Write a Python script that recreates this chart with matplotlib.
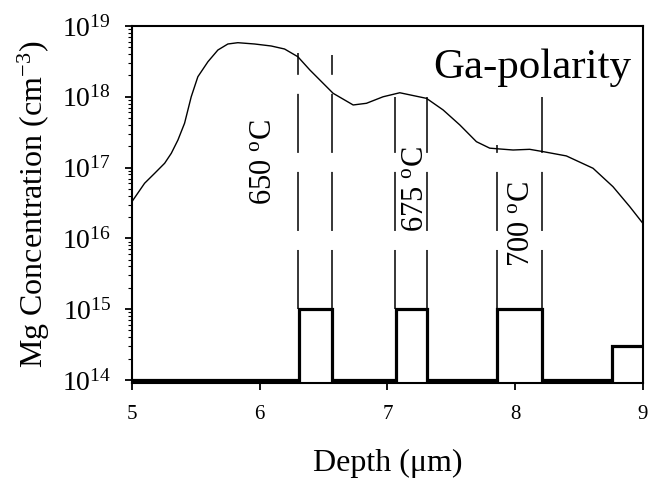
import numpy as np
import matplotlib
matplotlib.use("Agg")
import matplotlib.pyplot as plt

plt.rcParams['font.family'] = ['Liberation Serif', 'DejaVu Serif']
plt.rcParams['mathtext.fontset'] = 'custom'
plt.rcParams['mathtext.rm'] = 'Liberation Serif'
plt.rcParams['mathtext.it'] = 'Liberation Serif:italic'
plt.rcParams['lines.scale_dashes'] = False

# ---- SIMS profile ----
depth = [5.0, 5.099, 5.178, 5.256, 5.308, 5.360, 5.412, 5.464, 5.516, 5.595,
         5.673, 5.751, 5.829, 5.960, 6.090, 6.195, 6.299, 6.393, 6.575, 6.732,
         6.836, 6.966, 7.097, 7.306, 7.436, 7.567, 7.697, 7.801, 7.880, 7.984,
         8.114, 8.218, 8.401, 8.610, 8.766, 8.897, 9.0]
mg_conc = [3.3e16, 6.0e16, 8.3e16, 1.15e17, 1.59e17, 2.45e17, 4.23e17, 1.0e18, 1.92e18, 3.13e18,
           4.58e18, 5.57e18, 5.81e18, 5.57e18, 5.22e18, 4.73e18, 3.68e18, 2.39e18, 1.12e18, 7.66e17,
           8.09e17, 1.0e18, 1.14e18, 9.5e17, 6.52e17, 4.0e17, 2.32e17, 1.88e17, 1.83e17, 1.77e17,
           1.81e17, 1.68e17, 1.46e17, 9.77e16, 5.37e16, 2.81e16, 1.63e16]

# ---- doping steps ----
step_edges = [5.0, 6.31, 6.565, 7.07, 7.31, 7.855, 8.21, 8.76, 9.0]
step_levels = [1e14, 1e15, 1e14, 1e15, 1e14, 1e15, 1e14, 3e14]

# ---- dashed markers: x position and top value ----
marker_x = [6.30, 6.565, 7.06, 7.31, 7.86, 8.21]
marker_top = [4.2e18, 3.9e18, 1.0e18, 1.0e18, 2.1e17, 1.0e18]

# ---- temperature labels ----
temp_labels = ["650 $^{\\mathrm{o}}$C", "675 $^{\\mathrm{o}}$C", "700 $^{\\mathrm{o}}$C"]
temp_x = [6.033, 7.222, 8.05]
temp_y = [1.2e17, 5e16, 1.6e16]

fig = plt.figure(figsize=(6.5, 4.78), dpi=100)
ax = fig.add_axes([0.203, 0.199, 0.786, 0.7466])

ax.plot(depth, mg_conc, color='black', lw=1.0)
ax.stairs(step_levels, step_edges, color='black', lw=2.3, baseline=None)

for xm, ym in zip(marker_x, marker_top):
    ax.plot([xm, xm], [1e15, ym], color='black', lw=1.1, dashes=(42.5, 13.7))

for lab, xt, yt in zip(temp_labels, temp_x, temp_y):
    ax.text(xt, yt, lab, rotation=90, ha='center', va='center', fontsize=22)

ax.text(8.912, 1.86e18, "Ga-polarity", ha='right', va='baseline', fontsize=31)

ax.set_yscale('log')
ax.set_xlim(5, 9)
ax.set_ylim(9.07e13, 1e19)
ax.set_xticks([5, 6, 7, 8, 9])
ax.set_yticks([1e14, 1e15, 1e16, 1e17, 1e18, 1e19])
ax.tick_params(axis='x', direction='out', length=5, width=1.3, labelsize=15, pad=11)
ax.tick_params(axis='y', which='major', direction='out', length=5, width=1.3, labelsize=20, pad=10)
ax.tick_params(axis='y', which='minor', direction='out', length=3, width=0.8)
for sp in ax.spines.values():
    sp.set_linewidth(1.5)

ax.set_xlabel("Depth (μm)", fontsize=23, labelpad=18)
ax.set_ylabel("Mg Concentration (cm$^{\\mathrm{-3}}$)", fontsize=23, labelpad=7)

fig.savefig("out.png", dpi=100)
